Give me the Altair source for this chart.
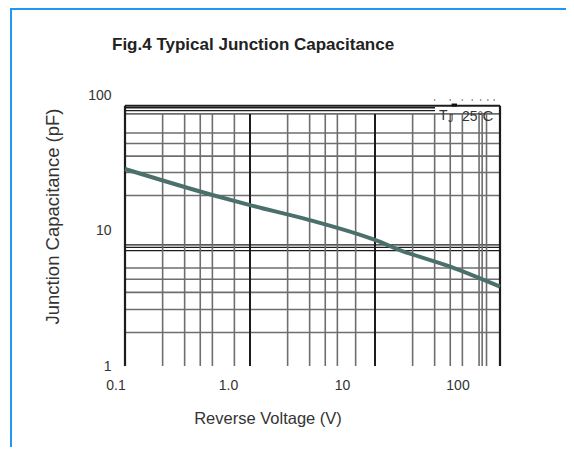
import altair as alt
import pandas as pd

# ---- data ----
voltage = [0.1, 0.5, 1, 3, 10, 15.8, 40, 100]
capacitance = [31.9, 20.2, 16.9, 13.0, 9.16, 7.68, 5.73, 4.03]

x_ticks = [0.1, 1, 10, 100]
y_ticks = [1, 10, 100]

# grid lines (as printed on the datasheet)
x_minor = [0.2, 0.3, 0.4, 0.5, 0.75, 2, 3, 4, 5, 7, 20, 30, 40, 50, 68, 72, 78]
x_major_inner = [1, 10]
x_frame = [0.1, 100]
y_minor = [1.8, 2.7, 3.65, 4.6, 5.6, 20, 30, 40, 50, 60, 84]
y_near_ten = [7.6, 8.05, 8.4]
y_top_short = [89, 93.7]
y_top = [97]
dot_x = [30, 40, 50, 60, 70, 80, 90]

FONT = "Liberation Sans"
GRID_GRAY = "#6e6e6e"
DARK = "#1c1c1c"

xs = alt.Scale(type="log", domain=[0.1, 100], nice=False)
ys = alt.Scale(type="log", domain=[1, 100], nice=False)

x_axis = alt.Axis(
    values=x_ticks, grid=False, domain=False, ticks=False, labelFlush=False,
    labelFont=FONT, labelFontSize=14, labelColor="#333",
    labelBaseline="middle", labelPadding=19,
    labelExpr="datum.value == 1 ? '1.0' : format(datum.value, '~g')",
    labelOffset={"condition": [
        {"test": "datum.value < 0.5", "value": -9.5},
        {"test": "datum.value < 5", "value": -22},
        {"test": "datum.value < 50", "value": -33},
    ], "value": -42.5},
    title="Reverse Voltage (V)", titleFont=FONT, titleFontSize=16.5,
    titleFontWeight="normal", titleColor="#333",
    titleX=142.5, titleY=57, titleBaseline="alphabetic", titleAlign="center",
)
y_axis = alt.Axis(
    values=y_ticks, grid=False, domain=False, ticks=False, labelFlush=False,
    labelFont=FONT, labelFontSize=14, labelColor="#333",
    labelAlign="right", labelBaseline="middle", labelPadding=14,
    labelExpr="format(datum.value, '~g')",
    labelOffset={"condition": [
        {"test": "datum.value > 50", "value": -9},
        {"test": "datum.value > 5", "value": -5},
    ], "value": 0},
    title="Junction Capacitance (pF)", titleFont=FONT, titleFontSize=18.5,
    titleFontWeight="normal", titleColor="#333",
    titleX=-67, titleY=112, titleAngle=-90, titleBaseline="alphabetic", titleAlign="center",
)

def X(field):
    return alt.X(field, type="quantitative", scale=xs, axis=x_axis)

def Y(field):
    return alt.Y(field, type="quantitative", scale=ys, axis=y_axis)

def vrules(vals, y_lo, y_hi, color, width):
    df = pd.DataFrame({"x": vals, "ylo": [y_lo] * len(vals), "yhi": [y_hi] * len(vals)})
    return alt.Chart(df).mark_rule(color=color, strokeWidth=width).encode(
        x=X("x"), y=Y("ylo"), y2="yhi:Q")

def hrules(vals, x_lo, x_hi, color, width):
    df = pd.DataFrame({"y": vals, "xlo": [x_lo] * len(vals), "xhi": [x_hi] * len(vals)})
    return alt.Chart(df).mark_rule(color=color, strokeWidth=width).encode(
        y=Y("y"), x=X("xlo"), x2="xhi:Q")

border = alt.Chart(pd.DataFrame({"a": [0]})).mark_rect(
    fill=None, stroke="#2196f3", strokeWidth=2).encode(
    x=alt.value(-114), x2=alt.value(700), y=alt.value(-95), y2=alt.value(600))

grid = [
    hrules(y_minor, 0.1, 100, GRID_GRAY, 1.6),
    hrules(y_near_ten, 0.1, 100, DARK, 1.4),
    hrules(y_top_short, 0.1, 30.2, DARK, 1.4),
    hrules(y_top, 0.1, 100, DARK, 2),
    vrules(x_minor, 1, 84, GRID_GRAY, 1.6),
    vrules(x_major_inner, 1, 84, DARK, 2),
    vrules(x_frame, 1, 97, DARK, 2.2),
]

dots = alt.Chart(pd.DataFrame({"x": dot_x, "y": [107.3] * len(dot_x)})).mark_square(
    size=2, color="#777", opacity=1).encode(x=X("x"), y=Y("y"))

tab = alt.Chart(pd.DataFrame({"x": [41], "x2": [45.3], "y": [98.2]})).mark_rule(
    color="#111", strokeWidth=3).encode(x=X("x"), x2="x2:Q", y=Y("y"))

labels_df = pd.DataFrame({
    "x": [32.5, 38.5, 49.7, 72.5],
    "y": [81, 76.5, 79, 81],
    "t": ["T", "J", "25°", "C"],
    "s": [14, 10, 14, 15],
})
tj = alt.Chart(labels_df).mark_text(font=FONT, color="#333", align="left", baseline="middle").encode(
    x=X("x"), y=Y("y"), text="t:N", size=alt.Size("s:Q", scale=None, legend=None))

curve = alt.Chart(pd.DataFrame({"V": voltage, "C": capacitance})).mark_line(
    color="#4b706c", strokeWidth=4, interpolate="monotone").encode(x=X("V"), y=Y("C"))

chart = alt.layer(border, *grid, dots, tab, tj, curve).properties(
    width=375, height=262,
    padding={"left": 117, "top": 96, "right": 66, "bottom": 81},
    autosize=alt.AutoSizeParams(type="none"),
    title=alt.TitleParams(
        text="Fig.4 Typical Junction Capacitance", anchor="start", frame="group",
        dx=-13, offset=-59, fontSize=17, fontWeight="bold", font=FONT,
        color="#222", baseline="alphabetic"),
).configure_view(stroke=None)

chart.save("out.html", embed_options={"renderer": "svg", "actions": False})
